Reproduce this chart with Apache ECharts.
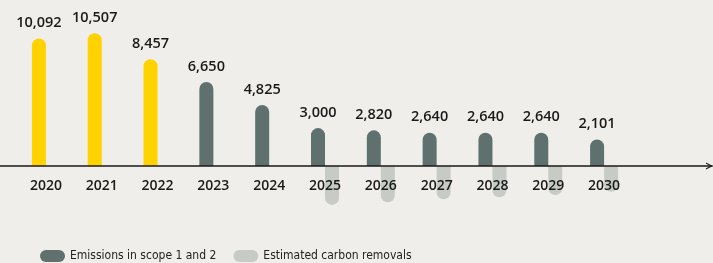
<!DOCTYPE html>
<html>
<head>
<meta charset="utf-8">
<script src="https://cdn.jsdelivr.net/npm/echarts@6/dist/echarts.min.js"></script>
<style>
html,body{margin:0;padding:0;background:#f0eeea;}
#c{width:713px;height:263px;}
</style>
</head>
<body>
<div id="c"></div>
<script>
var years = ['2020','2021','2022','2023','2024','2025','2026','2027','2028','2029','2030'];
var emissions = [10092, 10507, 8457, 6650, 4825, 3000, 2820, 2640, 2640, 2640, 2101];
var removals = [null, null, null, null, null, -3080, -2870, -2640, -2480, -2300, -2040];
var historicYears = ['2020','2021','2022'];
var seriesNames = ['Emissions in scope 1 and 2', 'Estimated carbon removals'];

var YELLOW = '#ffd200', DARK = '#5f716e', LIGHT = '#c6cbc5';
var pill = 'path://M6,0 L19,0 A6,6 0 0 1 19,12 L6,12 A6,6 0 0 1 6,0 Z';
var chevron = 'path://M0,10 L5,0 L10,10 L8.2,10 L5,3.4 L1.8,10 Z';
var legendFont = '"DejaVu Sans Condensed", "Noto Sans", sans-serif';

var chart = echarts.init(document.getElementById('c'));
chart.setOption({
  backgroundColor: '#f0eeea',
  animation: false,
  textStyle: { fontFamily: 'Open Sans' },
  legend: {
    left: 35, top: 245,
    itemWidth: 25, itemHeight: 13, itemGap: 17,
    icon: pill,
    textStyle: { fontFamily: legendFont, fontSize: 12, color: '#222' },
    data: seriesNames
  },
  grid: [
    { left: 18, right: 81, top: 14.4, bottom: 46.5 },
    { left: 0, right: 1, top: 14.4, bottom: 46.5 }
  ],
  xAxis: [
    {
      type: 'category', gridIndex: 0, data: years, z: 10,
      axisLine: { show: false }, axisTick: { show: false },
      axisLabel: { margin: -37, color: '#1a1a1a', fontSize: 14, fontWeight: 600, fontFamily: 'Open Sans' }
    },
    {
      type: 'category', gridIndex: 1, data: [''], z: 10,
      axisLine: { show: true, onZero: true, lineStyle: { color: '#1a1a1a', width: 1.6 },
        symbol: ['none', chevron], symbolSize: [13, 7], symbolOffset: [0, -2.5] },
      axisTick: { show: false }, axisLabel: { show: false }
    }
  ],
  yAxis: [
    { type: 'value', gridIndex: 0, min: -4000, max: 12000, show: false },
    { type: 'value', gridIndex: 1, min: -4000, max: 12000, show: false }
  ],
  series: [
    {
      name: seriesNames[0], type: 'bar', xAxisIndex: 0, yAxisIndex: 0,
      barWidth: 14, barGap: '0%',
      itemStyle: { color: DARK, borderRadius: [7, 7, 0, 0] },
      data: emissions.map(function (v, i) {
        return historicYears.indexOf(years[i]) >= 0 ? { value: v, itemStyle: { color: YELLOW } } : v;
      }),
      label: {
        show: true, position: 'top', distance: 8,
        color: '#1a1a1a', fontSize: 14.5, fontWeight: 600, fontFamily: 'Open Sans',
        formatter: function (p) { return p.value.toLocaleString('en-US'); }
      }
    },
    {
      name: seriesNames[1], type: 'bar', xAxisIndex: 0, yAxisIndex: 0,
      barWidth: 14, barGap: '0%',
      itemStyle: { color: LIGHT, borderRadius: [0, 0, 7, 7] },
      data: removals
    }
  ]
});
</script>
</body>
</html>
